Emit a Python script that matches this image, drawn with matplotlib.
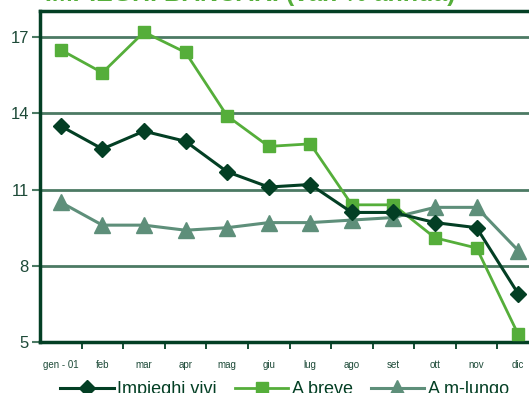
import matplotlib
matplotlib.use("Agg")
import matplotlib.pyplot as plt
from matplotlib import font_manager

months = ["gen - 01", "feb", "mar", "apr", "mag", "giu", "lug", "ago", "set", "ott", "nov", "dic"]
impieghi_vivi = [13.5, 12.6, 13.3, 12.9, 11.7, 11.1, 11.2, 10.1, 10.1, 9.7, 9.5, 6.9]
a_breve = [16.5, 15.6, 17.2, 16.4, 13.9, 12.7, 12.8, 10.4, 10.4, 9.1, 8.7, 5.3]
a_m_lungo = [10.5, 9.6, 9.6, 9.4, 9.5, 9.7, 9.7, 9.8, 9.9, 10.3, 10.3, 8.6]
y_ticks = [5, 8, 11, 14, 17]
title = "IMPIEGHI BANCARI (var. % annua)"

names = {f.name for f in font_manager.fontManager.ttflist}
narrow = "Liberation Sans Narrow" if "Liberation Sans Narrow" in names else "Liberation Sans"
plt.rcParams["font.family"] = [narrow, "DejaVu Sans"]

DARK = "#033f24"
LIGHT = "#55ae3a"
GREY = "#5e8f7a"
GRID = "#4c7a64"
TEXT = "#1d4a38"

fig = plt.figure(figsize=(5.29, 3.93), dpi=100)
ax = fig.add_axes([40 / 529, 51 / 393, 499 / 529, 331 / 393])

x = list(range(len(months)))
ax.plot(x, impieghi_vivi, color=DARK, lw=2.2, marker="D", ms=8, label="Impieghi vivi", zorder=4)
ax.plot(x, a_breve, color=LIGHT, lw=2.0, marker="s", ms=8, label="A breve", zorder=3)
ax.plot(x, a_m_lungo, color=GREY, lw=2.2, marker="^", ms=11, label="A m-lungo", zorder=2)

ax.set_xlim(-0.5, 11.5)
ax.set_ylim(5, 18.03)
ax.set_yticks(y_ticks)
ax.set_yticklabels([str(v) for v in y_ticks], fontsize=12, color=TEXT)
for v in y_ticks[1:]:
    ax.axhline(v, color=GRID, lw=2.0, zorder=1)

ax.set_xticks([i + 0.5 for i in range(len(months) - 1)])
ax.set_xticklabels([])
ax.set_xticks(x, minor=True)
ax.set_xticklabels(months, minor=True, fontsize=7, color=TEXT)
ax.tick_params(axis="x", which="major", direction="out", length=5, width=1.3, color=DARK)
ax.tick_params(axis="x", which="minor", length=0, pad=13)
ax.tick_params(axis="y", direction="out", length=6, width=1.5, color=GRID, pad=2)

for side in ["left", "bottom", "top", "right"]:
    ax.spines[side].set_color(DARK)
    ax.spines[side].set_linewidth(2.5)

fig.text(45 / 529, 1.0 + 18 / 393, title, fontsize=18, fontweight="bold", color=LIGHT,
         ha="left", va="top")

leg = fig.legend(loc="center", bbox_to_anchor=(0.538, 3 / 393), ncol=3,
                 frameon=False, fontsize=13, handlelength=2.95, columnspacing=1.0,
                 handletextpad=0.2, labelcolor=DARK)

fig.savefig("out.png", dpi=100)
